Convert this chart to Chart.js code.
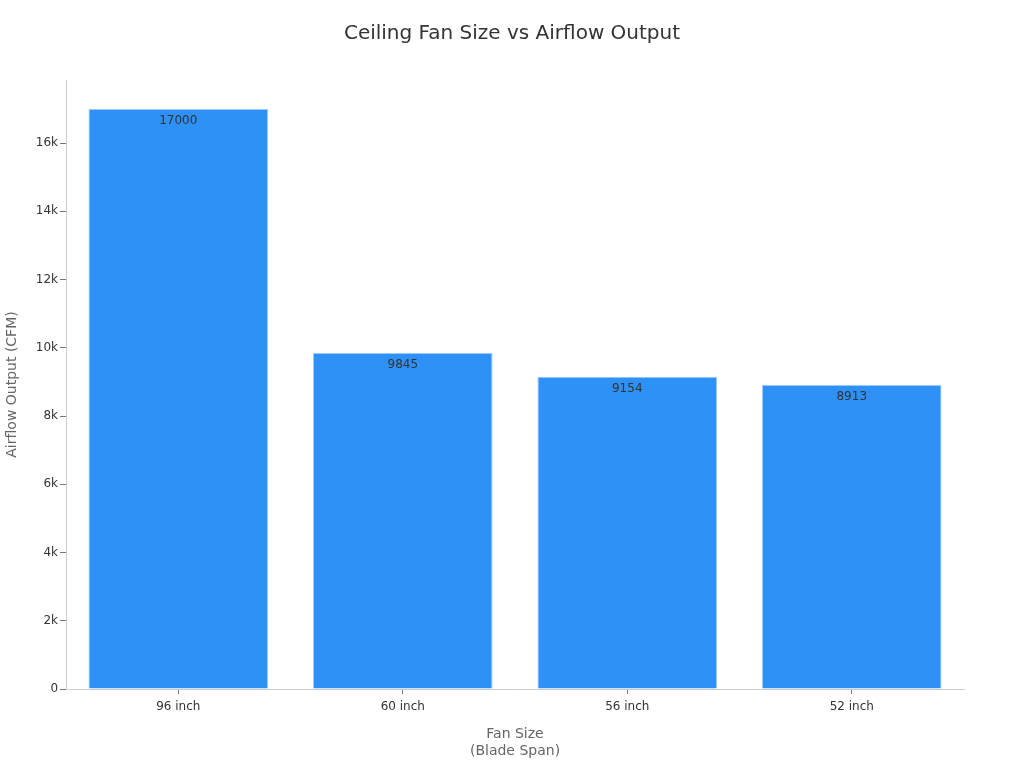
<!DOCTYPE html>
<html><head><meta charset="utf-8">
<script src="https://cdn.jsdelivr.net/npm/chart.js@4"></script>
<style>html,body{margin:0;padding:0;background:#fff;}#wrap{width:1024px;height:768px;}</style>
</head><body><div id="wrap"><canvas id="c"></canvas></div>
<script>
const categories = ["96 inch", "60 inch", "56 inch", "52 inch"];
const airflow = [17000, 9845, 9154, 8913];
const chartTitle = "Ceiling Fan Size vs Airflow Output";
const xTitle = ["Fan Size", "(Blade Span)"];
const yTitle = "Airflow Output (CFM)";

const labelPlugin = {
  id: 'barLabels',
  afterDatasetsDraw(chart) {
    const ctx = chart.ctx;
    const meta = chart.getDatasetMeta(0);
    ctx.save();
    ctx.font = '12px "DejaVu Sans"';
    ctx.fillStyle = '#333';
    ctx.textAlign = 'center';
    ctx.textBaseline = 'top';
    meta.data.forEach((bar, i) => {
      ctx.fillText(String(chart.data.datasets[0].data[i]), bar.x, bar.y + 6);
    });
    ctx.restore();
  }
};

const titlePlugin = {
  id: 'centerTitle',
  afterDraw(chart) {
    const ctx = chart.ctx;
    ctx.save();
    ctx.font = '20px "DejaVu Sans"';
    ctx.fillStyle = '#333';
    ctx.textAlign = 'center';
    ctx.textBaseline = 'middle';
    ctx.fillText(chartTitle, chart.width / 2, 34);
    ctx.restore();
  }
};

Chart.defaults.font.family = '"DejaVu Sans", sans-serif';
new Chart(document.getElementById('c'), {
  type: 'bar',
  data: {
    labels: categories,
    datasets: [{
      data: airflow,
      backgroundColor: '#2E91F7',
      borderColor: '#9CCBFA',
      borderWidth: 1,
      categoryPercentage: 0.8,
      barPercentage: 1.0
    }]
  },
  options: {
    responsive: true,
    maintainAspectRatio: false,
    animation: false,
    layout: { padding: { left: 0, right: 60, top: 80, bottom: 4 } },
    plugins: {
      legend: { display: false },
      tooltip: { enabled: false },
      title: { display: false }
    },
    scales: {
      x: {
        grid: { display: true, offset: false, drawOnChartArea: false, drawTicks: true, tickLength: 5, color: '#777' },
        border: { display: true, color: '#ccc' },
        ticks: { color: '#333', font: { size: 12 }, padding: 6 },
        title: { display: true, text: xTitle, color: '#666', font: { size: 14 }, padding: { top: 6 } }
      },
      y: {
        beginAtZero: true,
        max: 17850,
        afterBuildTicks: axis => { axis.ticks = axis.ticks.filter(t => t.value % 2000 === 0); },
        grid: { display: true, drawOnChartArea: false, drawTicks: true, tickLength: 6, color: '#777' },
        border: { display: true, color: '#ccc' },
        ticks: {
          stepSize: 2000,
          color: '#333',
          font: { size: 12 },
          padding: 2,
          callback: v => v === 0 ? '0' : (v / 1000) + 'k'
        },
        title: { display: true, text: yTitle, color: '#666', font: { size: 14 }, padding: { bottom: 13 } }
      }
    }
  },
  plugins: [labelPlugin, titlePlugin]
});
</script></body></html>
